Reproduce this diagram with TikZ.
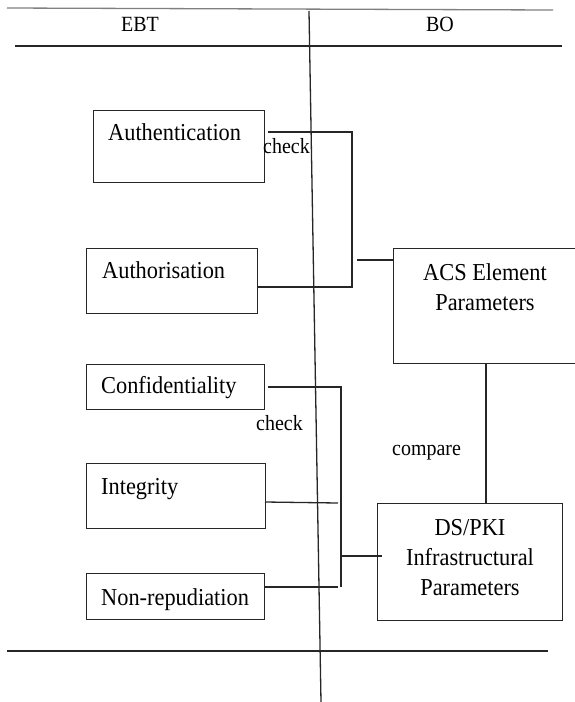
\documentclass[tikz,border=0pt]{standalone}
\usepackage{fontspec}
\setmainfont{Liberation Serif}[FakeStretch=0.92]
\usetikzlibrary{calc}
\tikzset{
  box/.style={draw=black!85, line width=1.3pt, inner sep=0pt, anchor=north west},
  lbl/.style={font=\fontsize{24.3}{28}\selectfont, inner sep=0pt, anchor=base west},
  ctr/.style={font=\fontsize{24.3}{28}\selectfont, inner sep=0pt, anchor=base},
  small/.style={font=\fontsize{21.7}{26}\selectfont, inner sep=0pt, anchor=base west},
  head/.style={font=\fontsize{21.7}{26}\selectfont, inner sep=0pt, anchor=base},
  ln/.style={draw=black!85, line width=1.3pt},
}
\begin{document}
\begin{tikzpicture}[x=1pt,y=-1pt]
\useasboundingbox (0,0) rectangle (574,702);
% frame lines
\coordinate (t1) at (7,8);   \coordinate (t2) at (553,10);
\coordinate (h1) at (15,46); \coordinate (h2) at (562,46);
\coordinate (b1) at (7,651); \coordinate (b2) at (548,651);
\coordinate (v1) at (309,11); \coordinate (v2) at (321,702);
\draw[ln, draw=black!50] (t1) -- (t2);
\draw[ln] (h1) -- (h2);
\draw[ln] (b1) -- (b2);
\draw[ln] (v1) -- (v2);
\node[head] (ebt) at (140,31) {EBT};
\node[head] (bo) at (440,31) {BO};
% boxes
\node[box, minimum width=171pt, minimum height=72pt] (auth) at (93,110) {};
\node[box, minimum width=171pt, minimum height=65pt] (authz) at (86,248) {};
\node[box, minimum width=178pt, minimum height=45pt] (conf) at (86,364) {};
\node[box, minimum width=179pt, minimum height=65pt] (integ) at (86,463) {};
\node[box, minimum width=178pt, minimum height=46pt] (nonrep) at (86,573) {};
\node[box, minimum width=185pt, minimum height=115pt] (acs) at (393,248) {};
\node[box, minimum width=185pt, minimum height=117pt] (ds) at (377,503) {};
% box texts
\node[lbl] (tAuth) at (108,140) {Authentication};
\node[lbl] (tAuthz) at (102,278) {Authorisation};
\node[lbl] (tConf) at (101,393) {Confidentiality};
\node[lbl] (tInt) at (101,494) {Integrity};
\node[lbl] (tNon) at (101,605) {Non-repudiation};
\node[ctr] (tAcs1) at (485,280) {ACS Element};
\node[ctr] (tAcs2) at (485,310) {Parameters};
\node[ctr] (tDs1) at (470,535) {DS/PKI};
\node[ctr] (tDs2) at (470,565) {Infrastructural};
\node[ctr] (tDs3) at (470,595) {Parameters};
% labels
\node[small] (chk1) at (263,153) {check};
\node[small] (chk2) at (256,430) {check};
\node[small] (cmp) at (392,455) {compare};
% connectors
\coordinate (aS) at (268,132);
\coordinate (aJ) at (352,287);
\draw[ln] (aS) -| (aJ) -- (authz.east |- aJ);
\coordinate (acsIn) at (357,260);
\draw[ln] (acsIn) -- (acs.west |- acsIn);
\coordinate (cmpX) at (486,0);
\draw[ln] (acs.south -| cmpX) -- (ds.north -| cmpX);
\coordinate (cS) at (268,387);
\coordinate (cJ) at (341,587);
\draw[ln] (cS) -| (cJ);
\coordinate (nE) at (338,587);
\draw[ln] (nonrep.east |- nE) -- (nE);
\coordinate (iS) at (265,502);
\coordinate (iE) at (338,503);
\draw[ln] (iS) -- (iE);
\coordinate (dS) at (341,556);
\coordinate (dE) at (382,556);
\draw[ln] (dS) -- (dE);
\end{tikzpicture}
\end{document}
